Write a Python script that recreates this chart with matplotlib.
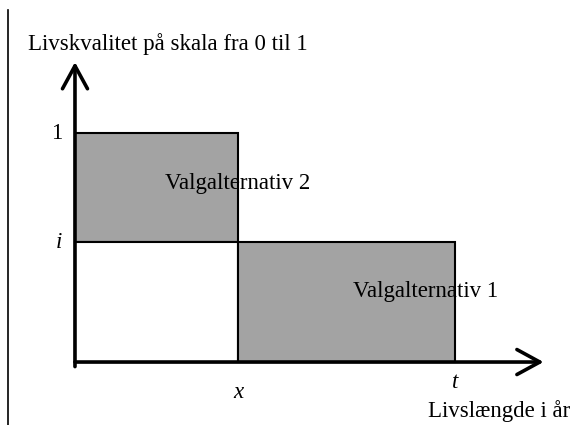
import matplotlib
matplotlib.use("Agg")
import matplotlib.pyplot as plt
from matplotlib.patches import Rectangle

plt.rcParams.update({
    'font.family': ['Liberation Serif', 'DejaVu Serif'],
    'font.size': 16.5,
})

# values (x in units of the switch point, y on 0..1 scale)
time_points = [0.0, 1.0, 2.33]        # 0, x, t
quality_levels = [1.0, 0.524]         # full quality, i
tick_labels_x = ["x", "t"]
tick_labels_y = ["1", "i"]
alt_labels = ["Valgalternativ 2", "Valgalternativ 1"]
xlabel = "Livslængde i år"
ylabel = "Livskvalitet på skala fra 0 til 1"

GREY = "#a3a3a3"

fig = plt.figure(figsize=(5.7, 4.25), dpi=100)
ax = fig.add_axes([0, 0, 1, 1])
ax.set_xlim(-0.46, 3.037)
ax.set_ylim(-0.275, 1.581)
ax.axis("off")

x0, xs, xt = time_points
q1, qi = quality_levels

# alternative 2: full quality up to x
ax.add_patch(Rectangle((x0, qi), xs - x0, q1 - qi, facecolor=GREY,
                       edgecolor="black", lw=1.5))
ax.add_patch(Rectangle((x0, 0), xs - x0, qi, facecolor="white",
                       edgecolor="black", lw=1.5))
# alternative 1: quality i from x to t
ax.add_patch(Rectangle((xs, 0), xt - xs, qi, facecolor=GREY,
                       edgecolor="black", lw=1.5))

# axes with open arrow heads
arrow = dict(arrowstyle="->,head_length=0.55,head_width=0.3", lw=2.6,
             mutation_scale=30, color="black", shrinkA=0, shrinkB=0)
ax.annotate("", xy=(x0, 1.31), xytext=(x0, -0.02), arrowprops=arrow)
ax.annotate("", xy=(2.875, 0), xytext=(x0, 0), arrowprops=arrow)

# left margin rule
ax.plot([-0.411, -0.411], [-0.275, 1.537], color="black", lw=1.2)

# labels
ax.text(-0.08, q1, tick_labels_y[0], ha="right", va="center")
ax.text(-0.08, qi, tick_labels_y[1], ha="right", va="center", style="italic")
ax.text(xs, -0.135, tick_labels_x[0], ha="center", va="center", style="italic")
ax.text(xt, -0.09, tick_labels_x[1], ha="center", va="center", style="italic")
ax.text(3.04, -0.215, xlabel, ha="right", va="center")
ax.text(-0.29, 1.39, ylabel, ha="left", va="center")
ax.text(0.55, 0.78, alt_labels[0], ha="left", va="center")
ax.text(1.705, 0.31, alt_labels[1], ha="left", va="center")

fig.savefig("out.png", dpi=100)
